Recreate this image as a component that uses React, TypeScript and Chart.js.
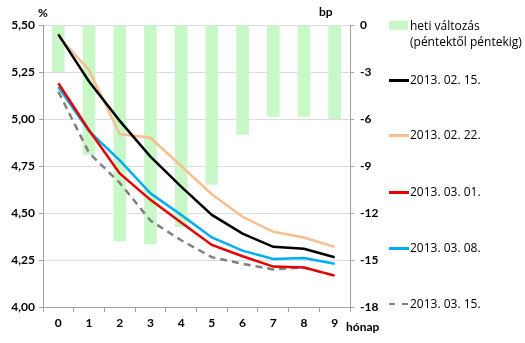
import React, { useEffect, useRef } from "react";
import { Chart, registerables } from "chart.js";

Chart.register(...registerables);

const months = ["0", "1", "2", "3", "4", "5", "6", "7", "8", "9"];
const weeklyChange = [-3.0, -8.3, -13.8, -14.0, -12.9, -10.2, -7.0, -5.85, -5.85, -6.0];
const s0215 = [5.45, 5.2, 4.99, 4.8, 4.64, 4.49, 4.39, 4.32, 4.31, 4.265];
const s0222 = [5.44, 5.26, 4.92, 4.9, 4.75, 4.6, 4.48, 4.4, 4.37, 4.32];
const s0301 = [5.19, 4.94, 4.71, 4.57, 4.45, 4.33, 4.27, 4.215, 4.21, 4.167];
const s0308 = [5.17, 4.935, 4.78, 4.605, 4.49, 4.37, 4.3, 4.255, 4.26, 4.23];
const s0315 = [5.145, 4.82, 4.66, 4.46, 4.355, 4.265, 4.23, 4.2, 4.21, 4.167];

const barLabel = "heti változás";
const barLabel2 = "(péntektől péntekig)";
const lineLabels = ["2013. 02. 15.", "2013. 02. 22.", "2013. 03. 01.", "2013. 03. 08.", "2013. 03. 15."];
const lineColors = ["#000000", "#f8be8f", "#e60000", "#00aeef", "#808080"];

const FONT = "Lato, 'Open Sans', sans-serif";
const LFONT = "'Open Sans', sans-serif";

export default function App() {
  const ref = useRef<HTMLCanvasElement>(null);
  useEffect(() => {
    const ctx = ref.current!;
    const series = [s0215, s0222, s0301, s0308, s0315];
    const chart = new Chart(ctx, {
      data: {
        labels: months,
        datasets: [
          ...series.map((d, i) => ({
            type: "line" as const,
            label: lineLabels[i],
            data: d,
            borderColor: lineColors[i],
            backgroundColor: lineColors[i],
            borderWidth: 2.5,
            borderDash: i === 4 ? [7, 5] : [],
            pointRadius: 0,
            tension: 0,
            yAxisID: "y",
            order: 1,
          })),
          {
            type: "bar" as const,
            label: barLabel,
            data: weeklyChange,
            backgroundColor: "#c8f7c8",
            borderWidth: 0,
            yAxisID: "y2",
            categoryPercentage: 1,
            barPercentage: 0.41,
            order: 10,
          },
        ],
      },
      options: {
        animation: false,
        responsive: false,
        maintainAspectRatio: false,
        layout: { padding: { top: 25, left: 0, right: 0, bottom: 0 } },
        plugins: { legend: { display: false }, tooltip: { enabled: false } },
        scales: {
          x: {
            offset: true,
            grid: { offset: true, drawOnChartArea: false, tickLength: 5, color: "#a0a0a0" },
            border: { color: "#a0a0a0" },
            ticks: { color: "#000", font: { family: FONT, size: 12, weight: "bold" }, padding: 4 },
            afterFit: (s: any) => { s.height = 36; },
          },
          y: {
            position: "left",
            min: 4,
            max: 5.5,
            ticks: {
              stepSize: 0.25,
              color: "#000",
              font: { family: FONT, size: 12, weight: "bold" },
              callback: (v: any) => Number(v).toFixed(2).replace(".", ","),
              padding: 4,
            },
            grid: { color: "#dcdcdc", tickLength: 4, tickColor: "#a0a0a0" },
            border: { color: "#a0a0a0" },
            afterFit: (s: any) => { s.width = 43; },
          },
          y2: {
            position: "right",
            min: -18,
            max: 0,
            ticks: { stepSize: 3, color: "#000", font: { family: FONT, size: 12, weight: "bold" }, padding: 6 },
            grid: { drawOnChartArea: false, tickLength: 4, color: "#a0a0a0" },
            border: { color: "#a0a0a0" },
            afterFit: (s: any) => { s.width = 175; },
          },
        },
      },
    });
    return () => chart.destroy();
  }, []);

  const txt: React.CSSProperties = { position: "absolute", fontFamily: FONT, fontSize: 12, color: "#000", whiteSpace: "nowrap", lineHeight: "16px" };
  const ltxt: React.CSSProperties = { ...txt, fontFamily: LFONT, fontSize: 12, fontWeight: 500 };
  const legendY = [80, 135, 192, 248, 304];

  return (
    <div style={{ position: "absolute", left: 0, top: 0, width: 525, height: 343, background: "#fff" }}>
      <canvas ref={ref} width={525} height={343} style={{ position: "absolute", left: 0, top: 0 }} />
      <div style={{ ...txt, left: 38, top: 5, fontWeight: "bold" }}>%</div>
      <div style={{ ...txt, left: 319, top: 4, fontWeight: "bold" }}>bp</div>
      <div style={{ ...txt, left: 346, top: 319, fontWeight: "bold" }}>hónap</div>
      <div style={{ position: "absolute", left: 389, top: 21, width: 19, height: 9, background: "#c8f7c8" }} />
      <div style={{ ...ltxt, left: 410, top: 18 }}>{barLabel}</div>
      <div style={{ ...ltxt, left: 410, top: 34 }}>{barLabel2}</div>
      {lineLabels.map((l, i) => (
        <React.Fragment key={l}>
          {i === 4 ? (
            <div style={{ position: "absolute", left: 389, top: legendY[i] - 1, width: 19, height: 0, borderTop: `2px dashed ${lineColors[i]}` }} />
          ) : (
            <div style={{ position: "absolute", left: 389, top: legendY[i] - 1, width: 20, height: 2.5, background: lineColors[i] }} />
          )}
          <div style={{ ...ltxt, left: 410, top: legendY[i] - 8 }}>{l}</div>
        </React.Fragment>
      ))}
    </div>
  );
}
